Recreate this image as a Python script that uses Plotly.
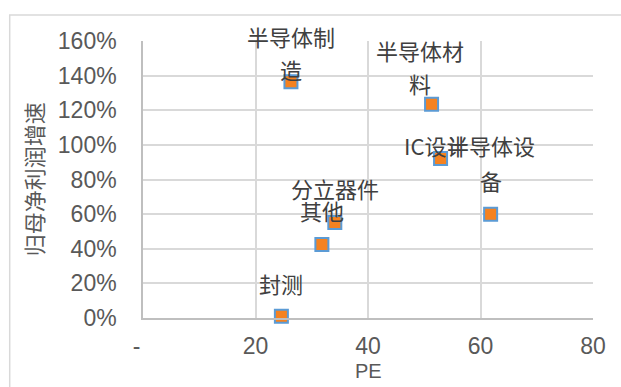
import plotly.graph_objects as go

# Sector valuation vs. profit growth
sectors = ["封测", "半导体制造", "半导体材料", "IC设计", "半导体设备", "分立器件", "其他"]
pe = [24.6, 26.3, 51.3, 52.9, 61.8, 34.1, 31.8]
growth = [0.01, 1.365, 1.235, 0.922, 0.60, 0.552, 0.425]

x_ticks = [0, 20, 40, 60, 80]
x_tick_text = ["-\u2007", "20", "40", "60", "80"]
y_ticks = [0, 0.2, 0.4, 0.6, 0.8, 1.0, 1.2, 1.4, 1.6]

# Label layout: wrapped lines plus pixel offsets from each marker
label_lines = {
    "封测": ["封测"],
    "半导体制造": ["半导体制", "造"],
    "半导体材料": ["半导体材", "料"],
    "IC设计": ["IC设计"],
    "半导体设备": ["半导体设", "备"],
    "分立器件": ["分立器件"],
    "其他": ["其他"],
}
label_offsets = {  # (xshift, yshift of last line, line spacing)
    "封测": (0, 33, 34),
    "半导体制造": (0, 13, 33),
    "半导体材料": (-12, 21, 33),
    "IC设计": (-5, 13, 34),
    "半导体设备": (0, 34, 35),
    "分立器件": (0, 34, 34),
    "其他": (0, 34, 34),
}

FONT = "Liberation Sans, Noto Sans CJK SC, sans-serif"
CJK = "Noto Sans CJK SC, sans-serif"
TEXT_COLOR = "#595959"
GRID = "#D9D9D9"

fig = go.Figure()
fig.add_trace(go.Scatter(
    x=pe, y=growth, mode="markers",
    marker=dict(symbol="square", size=13, color="#F58220",
                line=dict(color="#5B9BD5", width=2)),
    cliponaxis=False, hoverinfo="skip", showlegend=False,
))

annotations = []
for name, px, gy in zip(sectors, pe, growth):
    lines = label_lines[name]
    xs, ys, step = label_offsets[name]
    n = len(lines)
    for i, line in enumerate(lines):
        annotations.append(dict(
            x=px, y=gy, xref="x", yref="y", text=line, showarrow=False,
            xanchor="center", yanchor="middle",
            xshift=xs, yshift=ys + (n - 1 - i) * step,
            font=dict(family=CJK, size=22, color="#404040"),
        ))

# Axis titles
annotations.append(dict(
    x=-0.245, y=0.5, xref="paper", yref="paper", text="归母净利润增速",
    textangle=-90, showarrow=False, xanchor="center", yanchor="middle",
    font=dict(family=CJK, size=22, color=TEXT_COLOR),
))
annotations.append(dict(
    x=0.5, y=-0.19, xref="paper", yref="paper", text="PE",
    showarrow=False, xanchor="center", yanchor="middle",
    font=dict(family=FONT, size=20, color=TEXT_COLOR),
))

fig.update_layout(
    width=621, height=387,
    margin=dict(l=143.3, r=27.7, t=41, b=69.3),
    paper_bgcolor="white", plot_bgcolor="white",
    font=dict(family=FONT, color=TEXT_COLOR),
    annotations=annotations,
    shapes=[dict(
        type="rect", xref="paper", yref="paper",
        x0=-0.2962, x1=1.2, y0=-0.4, y1=1.094,
        line=dict(color=GRID, width=1.5), fillcolor="rgba(0,0,0,0)", layer="below",
    )],
)

fig.update_xaxes(
    range=[0, 80], tickvals=x_ticks, ticktext=x_tick_text,
    showgrid=True, gridcolor=GRID, gridwidth=1.5,
    showline=True, linecolor="#BFBFBF", linewidth=1.5,
    zeroline=False, ticks="", ticklabelstandoff=7,
    tickfont=dict(family=FONT, size=23, color=TEXT_COLOR),
)
fig.update_yaxes(
    range=[0, 1.6], tickvals=y_ticks, tickformat=".0%",
    showgrid=True, gridcolor=GRID, gridwidth=1.5,
    showline=True, linecolor="#BFBFBF", linewidth=1.5,
    zeroline=False, ticks="", ticklabelstandoff=20,
    tickfont=dict(family=FONT, size=23, color=TEXT_COLOR),
)

fig.write_html("out.html")
